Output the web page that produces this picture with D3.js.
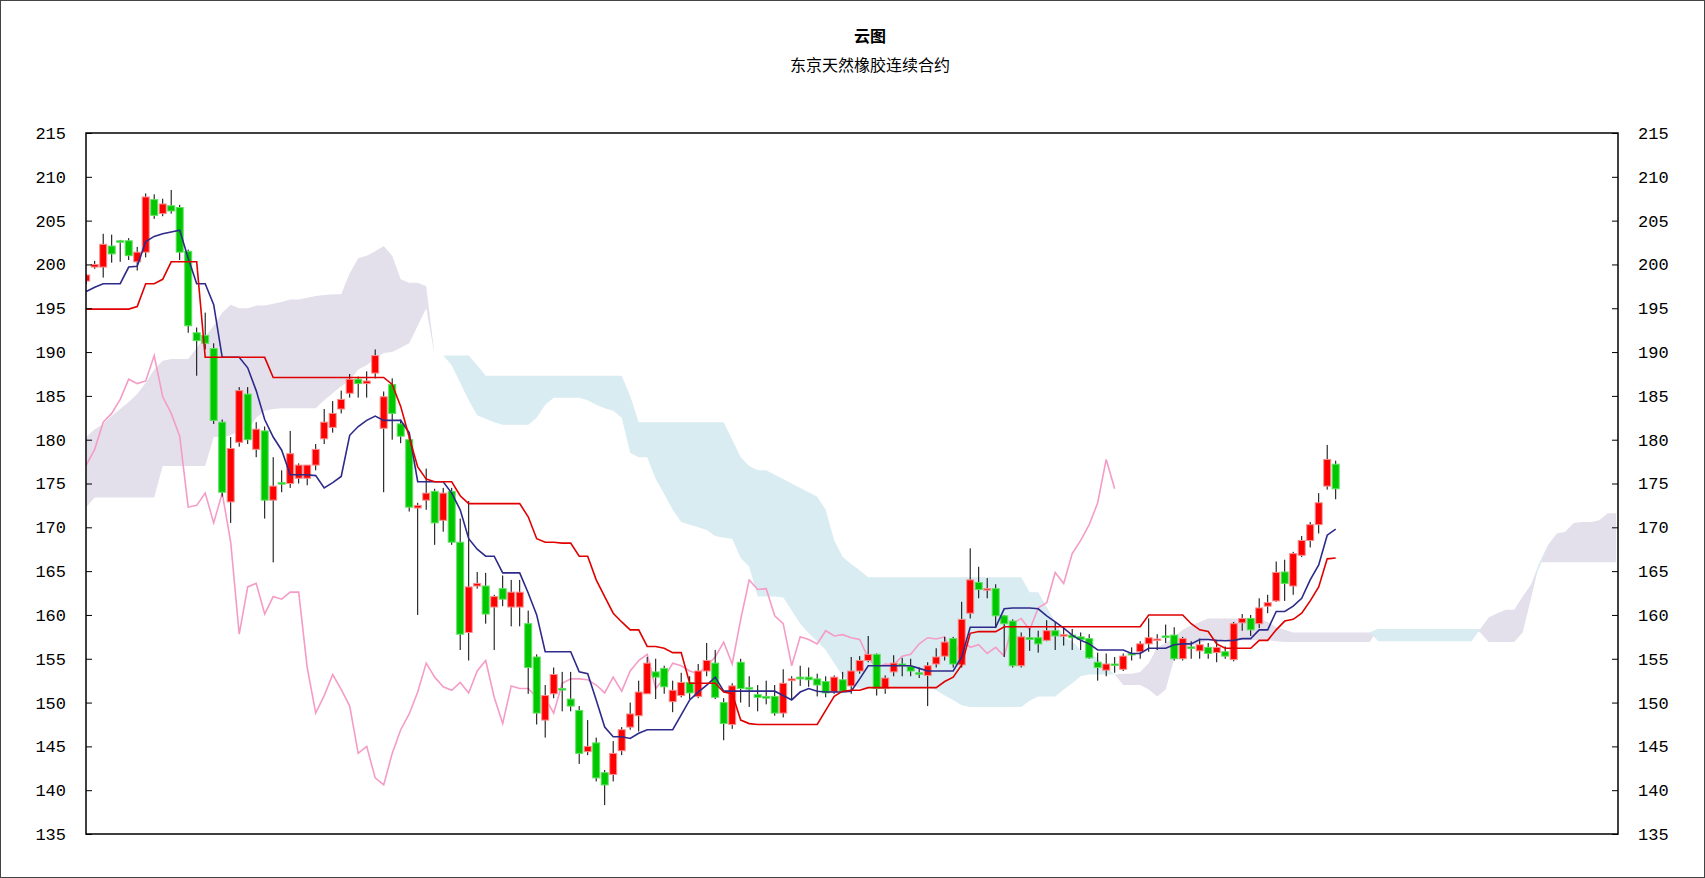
<!DOCTYPE html>
<html><head><meta charset="utf-8">
<script src="https://cdn.jsdelivr.net/npm/d3@7"></script>
<style>body{margin:0;background:#fff}svg{display:block}</style>
</head><body>
<svg id="c" width="1705" height="878"></svg>
<script>
const title = "云图";
const subtitle = "东京天然橡胶连续合约";
const yTicks = [135,140,145,150,155,160,165,170,175,180,185,190,195,200,205,210,215];

const open = [198.1,199.7,199.7,202.1,202.7,202.7,200.3,201.4,207.4,205.8,206.7,206.5,201.5,192.2,191.9,190.4,182.0,172.9,179.7,185.2,
178.9,181.0,173.1,175.1,175.0,175.6,175.6,177.1,180.1,181.4,183.5,185.3,186.9,186.4,187.6,181.3,186.3,181.8,180.0,172.2,
173.1,174.1,170.8,174.1,168.3,158.0,163.3,163.3,160.9,163.0,160.9,160.9,159.0,155.2,148.0,151.0,151.6,150.4,149.1,144.4,
145.4,142.0,141.8,144.5,147.2,148.5,151.0,153.5,153.9,150.1,150.8,152.3,150.7,153.6,154.5,150.0,147.5,154.6,151.7,150.9,
150.7,150.7,148.8,152.5,152.9,152.9,152.7,152.4,151.2,152.6,151.9,153.6,154.8,155.5,151.6,153.5,154.4,154.1,153.4,153.1,
154.4,155.3,157.3,154.3,160.2,163.7,162.9,163.0,159.9,159.3,154.2,157.4,157.4,157.1,158.2,157.7,157.7,157.5,157.3,154.6,
153.7,154.4,153.8,155.6,155.8,156.7,157.2,157.6,157.7,155.0,156.35,155.9,156.3,155.7,155.8,154.9,159.1,159.6,159.0,161.0,
161.6,164.9,163.3,166.8,168.5,170.3,174.7,177.2];
const high = [198.9,200.4,203.5,203.4,202.8,203.0,202.0,208.1,208.0,207.5,208.5,206.8,201.7,192.8,194.5,191.0,182.3,180.3,186.0,186.0,
182.0,181.5,178.0,176.5,181.0,177.3,177.1,179.5,183.5,184.4,185.6,187.5,187.2,187.8,190.3,185.5,187.0,182.3,180.3,172.8,
176.7,174.4,174.5,174.5,171.0,173.0,164.9,164.8,162.3,164.5,164.0,164.0,160.5,155.5,152.0,154.0,153.5,153.5,149.6,148.0,
146.0,142.3,145.6,147.2,150.0,152.5,155.2,155.0,154.2,152.5,153.4,153.0,154.4,156.8,156.0,150.5,152.2,155.0,153.0,152.0,
152.5,152.0,153.8,153.0,154.2,154.0,153.3,153.0,153.1,153.5,155.2,155.3,157.6,155.6,153.1,155.4,155.1,155.0,154.0,154.6,
156.2,157.5,157.5,161.5,167.6,165.5,164.2,163.5,160.0,159.5,158.0,158.5,158.2,159.4,159.2,158.6,158.4,158.0,157.8,155.7,
155.6,155.2,155.6,156.3,157.0,159.6,157.8,158.9,158.6,157.5,157.0,157.3,156.8,157.0,156.4,159.2,160.1,160.0,161.9,162.3,
166.1,166.3,167.2,169.0,170.6,173.9,179.4,177.6];
const low = [197.8,199.5,198.5,200.2,200.3,200.5,199.3,200.8,205.2,205.5,205.8,200.5,192.2,187.3,190.3,181.8,173.5,170.5,179.2,179.5,
178.0,171.0,166.0,174.0,174.5,175.0,174.8,176.5,179.5,180.8,183.0,184.8,184.8,184.8,187.0,174.0,180.0,179.6,171.8,160.0,
172.0,168.0,169.5,168.0,156.0,154.8,163.0,159.0,156.0,161.0,158.7,158.7,151.0,147.5,146.0,150.5,149.0,149.0,143.0,144.0,
141.0,138.3,141.0,144.0,146.9,146.7,151.0,150.4,151.0,148.9,150.6,150.4,150.5,153.0,150.4,145.7,147.0,150.0,149.5,149.0,
149.8,148.5,148.3,150.4,151.9,151.8,150.7,150.6,151.0,151.2,151.0,153.3,154.6,150.8,151.0,153.0,153.0,153.0,152.8,149.6,
154.0,154.8,154.0,154.0,159.6,161.9,161.9,158.5,155.2,154.0,154.0,155.9,155.7,157.0,156.0,156.5,156.0,156.0,155.0,152.5,
153.0,153.4,153.6,154.8,155.0,155.8,156.0,156.8,154.8,154.8,155.0,155.0,155.0,154.6,155.0,154.7,158.2,157.6,158.5,160.2,
161.5,161.6,162.3,166.6,167.7,169.3,174.3,173.2];
const close = [198.8,200.0,202.3,201.2,202.6,201.0,201.4,207.7,205.6,206.9,206.1,201.4,193.0,191.3,191.0,182.2,174.0,179.0,185.6,180.0,
181.2,173.1,174.7,175.0,178.4,177.1,177.1,178.9,182.0,183.0,184.6,186.9,186.4,186.7,189.6,184.9,183.0,180.4,172.3,172.5,
173.9,170.5,173.9,168.3,157.8,163.2,163.6,160.1,162.1,161.8,162.6,162.6,154.0,148.8,150.8,153.2,151.5,149.6,144.2,145.0,
141.4,140.6,144.2,146.9,148.7,151.2,154.5,152.9,151.8,151.4,152.3,151.1,153.6,154.8,150.6,147.6,151.9,151.6,151.6,150.6,
150.5,148.8,152.2,152.7,152.7,152.6,152.0,151.1,152.9,151.3,153.6,154.8,155.5,151.6,152.8,154.5,154.2,153.6,153.3,154.2,
155.2,156.9,154.4,159.5,164.0,162.9,163.0,159.9,159.0,154.2,157.5,157.2,156.7,158.2,157.6,157.75,157.4,157.2,155.1,154.0,
154.4,154.3,155.3,155.5,156.7,157.4,157.25,157.5,155.0,157.3,156.3,156.6,155.6,156.3,155.3,159.0,159.6,158.3,160.8,161.4,
164.85,163.6,167.0,168.5,170.3,172.8,177.75,174.4];

const tenkan = [196.9,197.4,197.8,197.8,197.8,199.7,199.8,202.6,203.2,203.5,203.7,203.9,200.7,197.8,197.8,195.4,189.4,189.4,189.4,188.2,
185.6,182.3,180.3,178.8,176.0,176.0,176.0,175.9,174.5,175.1,175.8,180.5,181.5,182.2,182.7,182.2,182.2,182.2,180.8,175.2,
175.2,175.2,175.2,173.9,172.0,168.7,167.5,166.7,166.7,164.8,164.8,164.8,162.5,160.0,155.8,155.8,155.8,155.8,153.5,153.3,
150.3,147.2,146.1,146.1,145.9,146.5,146.9,146.9,146.9,146.9,148.6,150.3,151.2,152.0,152.9,151.3,151.3,151.3,151.3,151.3,
151.3,151.3,150.8,150.3,151.2,151.6,151.3,151.2,151.2,151.2,151.3,152.7,154.2,154.2,154.2,154.2,154.2,154.2,153.9,153.6,
153.6,153.6,153.6,155.2,158.6,158.6,158.6,158.6,160.7,160.8,160.8,160.8,160.7,159.9,159.2,158.5,157.7,157.1,156.7,156.0,
156.0,156.0,156.0,155.6,155.6,156.2,156.2,156.2,156.6,156.7,156.7,157.2,157.2,157.1,157.05,157.1,157.3,157.3,158.3,158.3,
160.4,160.4,161.0,161.9,164.0,165.7,169.1,169.8];
const kijun = [194.9,194.9,194.9,194.9,194.9,194.9,195.2,197.8,197.8,198.3,
200.3,200.3,200.3,200.3,189.4,189.4,189.4,189.4,189.4,189.4,
189.4,189.4,187.1,187.1,187.1,187.1,187.1,187.1,187.1,187.1,
187.1,187.1,187.1,187.1,187.1,187.1,186.3,183.8,180.3,176.9,
175.5,175.2,175.2,175.2,173.6,172.7,172.7,172.7,172.7,172.7,
172.7,172.7,171.2,168.7,168.3,168.3,168.2,168.2,166.7,166.7,
164.0,162.1,160.2,159.2,158.3,158.3,156.4,156.4,156.2,155.7,
155.7,152.2,152.2,152.2,152.2,151.2,151.0,148.0,147.6,147.5,
147.5,147.5,147.5,147.5,147.5,147.5,147.5,149.1,150.7,151.3,
151.4,151.4,151.7,151.7,151.7,151.7,151.7,151.7,151.7,151.7,
151.7,152.4,152.9,154.3,157.9,158.1,158.1,158.1,158.65,158.65,
158.65,158.65,158.65,158.65,158.65,158.65,158.65,158.65,158.65,158.65,
158.65,158.65,158.65,158.65,158.65,160.0,160.0,160.0,160.0,160.0,
159.0,158.3,158.1,156.7,156.2,156.2,156.2,156.2,157.1,157.1,
158.3,159.3,159.5,160.2,161.6,163.2,166.4,166.5];
const spanA = [180.3,181.2,181.8,182.7,183.5,184.3,185.2,186.5,188.0,189.0,
189.2,189.2,189.2,190.5,191.8,193.0,194.5,195.4,195.0,195.0,
195.3,195.3,195.5,195.7,196.0,196.0,196.2,196.4,196.5,196.6,
196.6,199.0,200.7,201.0,201.5,202.1,201.0,198.3,197.9,197.9,
197.5,189.6,189.6,188.5,186.5,184.5,182.8,182.4,182.0,181.7,
181.7,181.7,181.7,182.5,184.0,184.8,184.8,184.8,184.8,184.5,
184.0,183.6,183.3,182.5,178.5,178.0,178.0,175.5,173.8,172.0,
170.6,170.3,170.0,169.7,169.0,168.8,168.7,166.5,165.5,162.1,
162.1,162.1,162.0,160.5,159.0,157.9,157.0,156.0,154.5,153.0,
152.0,151.6,151.6,151.6,151.6,151.6,151.6,151.6,151.6,151.7,
151.4,150.8,150.3,149.7,149.5,149.5,149.5,149.5,149.5,149.5,
149.5,150.2,150.7,150.7,150.7,151.5,152.2,153.0,153.2,153.2,
153.2,153.2,153.3,153.3,153.5,154.5,156.3,156.8,157.5,158.3,
158.8,159.2,159.6,159.6,159.6,159.6,159.6,159.6,159.6,159.2,
158.6,158.3,158.0,158.0,158.0,158.0,158.0,158.0,158.0,158.0,
158.0,158.0,157.0,157.0,157.0,157.0,157.0,157.0,157.0,157.0,
157.0,157.0,157.0,157.0,158.4,159.7,160.2,160.6,160.6,162.1,
163.5,165.5,168.0,169.3,169.5,170.5,170.6,170.6,170.8,171.6,171.6];
const spanB = [172.3,173.4,173.4,173.4,173.4,173.4,173.4,173.4,173.4,177.0,
177.0,177.0,177.0,177.0,177.0,180.3,180.3,180.5,181.0,181.0,
182.5,183.3,183.5,183.6,183.6,183.6,183.6,183.6,184.5,185.3,
186.1,186.7,188.0,188.5,189.3,189.9,190.0,190.5,191.0,193.0,
195.0,189.6,189.6,189.6,189.6,189.6,188.5,187.3,187.3,187.3,
187.3,187.3,187.3,187.3,187.3,187.3,187.3,187.3,187.3,187.3,
187.3,187.3,187.3,187.3,185.0,182.0,182.0,182.0,182.0,182.0,
182.0,182.0,182.0,182.0,182.0,182.0,180.0,178.0,177.0,176.5,
176.5,176.0,175.5,175.0,174.5,174.0,173.5,172.0,168.5,166.6,
165.8,165.1,164.3,164.3,164.3,164.3,164.3,164.3,164.3,164.3,
164.3,164.3,164.3,164.3,164.3,164.3,164.3,164.3,164.3,164.3,
164.3,162.6,162.6,160.9,159.2,157.5,157.0,156.0,155.7,155.0,
154.0,153.2,152.0,152.0,152.0,151.5,150.7,151.5,155.0,156.3,
156.5,156.8,157.1,157.1,157.1,157.1,157.1,157.1,157.1,157.1,
157.0,156.9,156.9,156.9,156.9,156.9,156.9,156.9,156.9,156.9,
156.9,156.9,158.4,158.4,158.4,158.4,158.4,158.4,158.4,158.4,
158.4,158.4,158.4,158.4,158.0,156.9,156.9,156.9,156.9,158.0,
162.0,166.0,166.0,166.0,166.0,166.0,166.0,166.0,166.0,166.0,166.0];
const chikouShift = 26;

const W = 1705, H = 878;
const L = 86, R = 1618, T = 133, B = 834;
const svg = d3.select("#c");
svg.append("rect").attr("x",0.5).attr("y",0.5).attr("width",W-1).attr("height",H-1)
  .attr("fill","#fff").attr("stroke","#444");

const x = d3.scaleLinear().domain([0,180]).range([86.2, 86.2+8.5*180]);
const y = d3.scaleLinear().domain([135,215]).range([B,T]);

const defs = svg.append("defs");
defs.append("clipPath").attr("id","plot").append("rect").attr("x",L).attr("y",T).attr("width",R-L).attr("height",B-T);
const g = svg.append("g").attr("clip-path","url(#plot)");

const cloud = spanA.map((a,i)=>({i,a,b:spanB[i]}));
g.append("path").datum(cloud).attr("fill","#e3e0ec")
  .attr("d", d3.area().x(d=>x(d.i)).y0(d=>y(d.b)).y1(d=>y(Math.max(d.a,d.b))));
g.append("path").datum(cloud).attr("fill","#d9ecf2")
  .attr("d", d3.area().x(d=>x(d.i)).y0(d=>y(d.a)).y1(d=>y(Math.max(d.a,d.b))));

const line = d3.line().x(d=>x(d[0])).y(d=>y(d[1]));
g.append("path").datum(close.map((c,i)=>[i-chikouShift,c]).filter(d=>d[0]>=0))
  .attr("fill","none").attr("stroke","#f59cc6").attr("stroke-width",1.6).attr("d",line);

const cw = 7;
const candles = g.append("g");
close.forEach((c,i)=>{
  const o = open[i], up = c >= o;
  const cx = x(i);
  candles.append("line").attr("x1",cx).attr("x2",cx).attr("y1",y(high[i])).attr("y2",y(low[i]))
    .attr("stroke","#000").attr("stroke-width",1);
  const top = y(Math.max(o,c)), bot = y(Math.min(o,c));
  candles.append("rect").attr("x",cx-cw/2).attr("y",top).attr("width",cw).attr("height",Math.max(bot-top,1.5))
    .attr("fill", up ? "#ff0000" : "#00c800")
    .attr("stroke", up ? "#f59090" : "#5fe05f").attr("stroke-width",1);
});

g.append("path").datum(tenkan.map((v,i)=>[i,v])).attr("fill","none").attr("stroke","#2e2a8a").attr("stroke-width",1.6).attr("d",line);
g.append("path").datum(kijun.map((v,i)=>[i,v])).attr("fill","none").attr("stroke","#e00000").attr("stroke-width",1.6).attr("d",line);

// frame
svg.append("rect").attr("x",L).attr("y",T).attr("width",R-L).attr("height",B-T).attr("fill","none").attr("stroke","#000").attr("stroke-width",1.5);

const yl = d3.axisLeft(y).tickValues(yTicks).tickSize(-6).tickPadding(20).tickFormat(d3.format("d"));
const yr = d3.axisRight(y).tickValues(yTicks).tickSize(-6).tickPadding(20).tickFormat(d3.format("d"));
const ga = svg.append("g").attr("transform",`translate(${L},0)`).call(yl);
const gb = svg.append("g").attr("transform",`translate(${R},0)`).call(yr);
[ga,gb].forEach(a=>{
  a.select(".domain").remove();
  a.selectAll("line").attr("stroke","#000");
  a.selectAll("text").attr("font-family","Liberation Mono, DejaVu Sans Mono, monospace").attr("font-size",17).attr("fill","#000");
});

svg.append("text").attr("x",870).attr("y",42).attr("text-anchor","middle")
  .attr("font-family","Noto Sans CJK SC").attr("font-weight","bold").attr("font-size",16).text(title);
svg.append("text").attr("x",870).attr("y",71).attr("text-anchor","middle")
  .attr("font-family","Noto Sans CJK SC").attr("font-size",16).text(subtitle);
</script>
</body></html>
